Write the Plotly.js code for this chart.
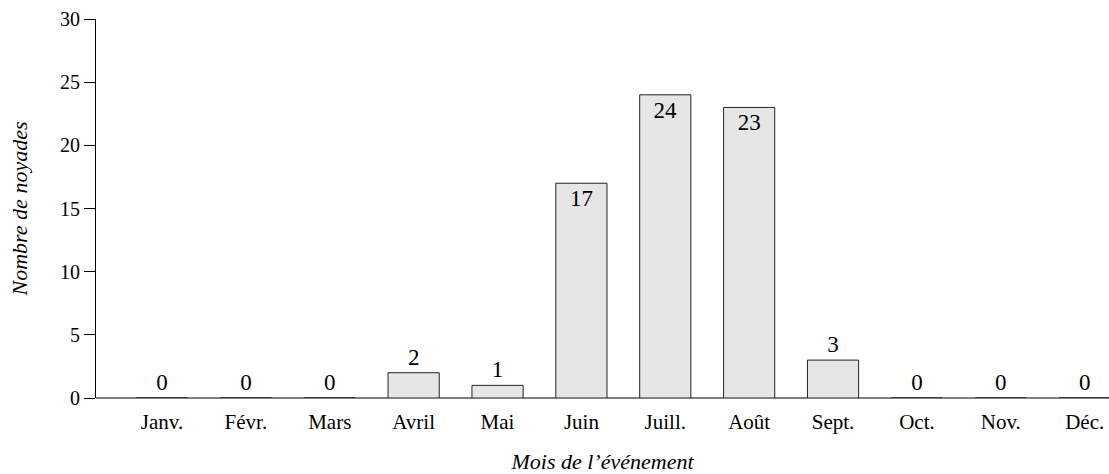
<!DOCTYPE html>
<html><head><meta charset="utf-8">
<script src="https://cdn.plot.ly/plotly-3.0.1.min.js"></script>
<style>html,body{margin:0;padding:0;background:#fff}</style>
</head><body>
<div id="chart" style="width:1109px;height:474px"></div>
<script>
const months = ["Janv.","Févr.","Mars","Avril","Mai","Juin","Juill.","Août","Sept.","Oct.","Nov.","Déc."];
const noyades = [0,0,0,2,1,17,24,23,3,0,0,0];
const yTicks = [0,5,10,15,20,25,30];

const positions = noyades.map(v => v >= 10 ? "inside" : "outside");
const FONT = "'Liberation Serif', 'DejaVu Serif', serif";

Plotly.newPlot("chart", [{
  type: "bar",
  x: months,
  y: noyades,
  width: 0.61,
  text: noyades.map(String),
  textposition: positions,
  insidetextanchor: "end",
  constraintext: "none",
  cliponaxis: false,
  textfont: {family: FONT, size: 23, color: "#000"},
  marker: {color: "#e6e6e6", line: {color: "#222", width: 1}},
  hoverinfo: "none"
}], {
  width: 1109, height: 474,
  margin: {l: 96, r: 0, t: 19, b: 76},
  paper_bgcolor: "#fff", plot_bgcolor: "#fff",
  showlegend: false,
  font: {family: FONT, color: "#000"},
  xaxis: {
    type: "category",
    range: [-0.787, 11.29],
    showgrid: false, showline: false, zeroline: false,
    ticks: "outside", ticklen: 5, tickcolor: "rgba(0,0,0,0)",
    tickfont: {family: FONT, size: 21, color: "#000"},
    title: {text: "<i>Mois de l’événement</i>", font: {family: FONT, size: 22, color: "#000"}, standoff: 20}
  },
  yaxis: {
    range: [0, 30],
    tickvals: yTicks,
    ticktext: yTicks.map(String),
    showgrid: false,
    showline: true, linecolor: "#000", linewidth: 1,
    ticks: "outside", ticklen: 11, tickcolor: "#000", tickwidth: 1,
    zeroline: true, zerolinecolor: "#808080", zerolinewidth: 2,
    tickfont: {family: FONT, size: 20, color: "#000"},
    title: {text: "<i>Nombre de noyades</i>", font: {family: FONT, size: 22, color: "#000"}, standoff: 26}
  }
}, {staticPlot: true});
</script>
</body></html>
